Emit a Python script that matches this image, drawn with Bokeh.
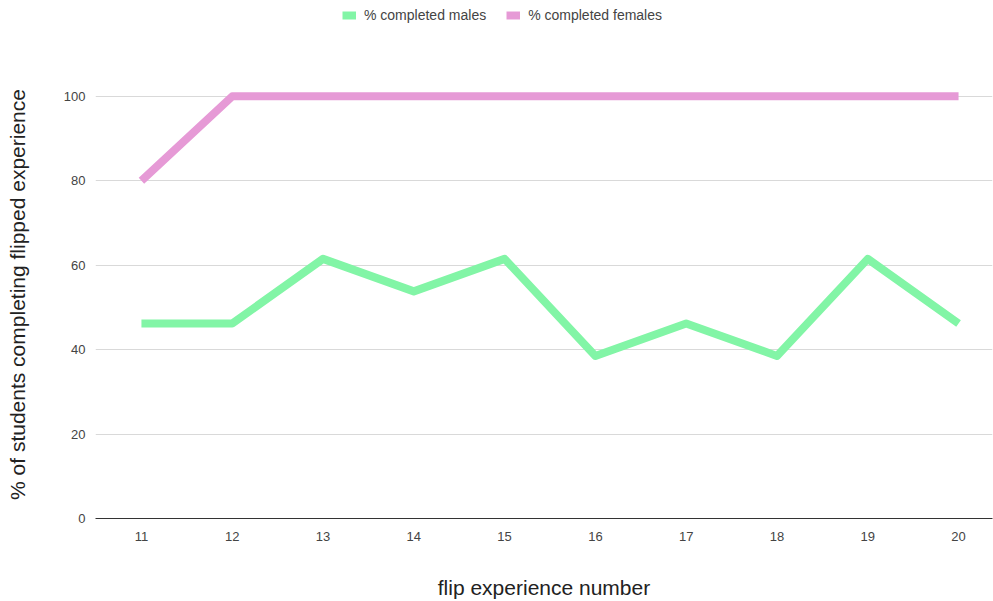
from bokeh.plotting import figure
from bokeh.models import Legend, LegendItem, FixedTicker, Range1d
from bokeh.embed import file_html
from bokeh.resources import INLINE

experience = [11, 12, 13, 14, 15, 16, 17, 18, 19, 20]
males = [46.2, 46.2, 61.5, 53.8, 61.5, 38.5, 46.2, 38.5, 61.5, 46.2]
females = [80, 100, 100, 100, 100, 100, 100, 100, 100, 100]
y_ticks = [0, 20, 40, 60, 80, 100]

FONT = "Liberation Sans"

p = figure(width=993, height=601, output_backend="svg", toolbar_location=None,
           x_range=Range1d(10.494, 20.374), y_range=Range1d(0, 122.7),
           min_border_left=95, min_border_right=1, min_border_bottom=82, min_border_top=0)
p.outline_line_color = None
p.background_fill_color = "white"

r_m = p.line(experience, males, line_color="#82f5a6", line_width=8, line_join="round")
r_f = p.line(experience, females, line_color="#e69ad6", line_width=8, line_join="round")

p.xaxis.ticker = FixedTicker(ticks=experience)
p.yaxis.ticker = FixedTicker(ticks=y_ticks)
p.xgrid.grid_line_color = None
p.ygrid.grid_line_color = "#d9d9d9"
p.ygrid.grid_line_width = 1

p.xaxis.axis_line_color = "#333333"
p.xaxis.axis_line_width = 1
p.xaxis.major_tick_line_color = None
p.xaxis.minor_tick_line_color = None
p.yaxis.axis_line_color = None
p.yaxis.major_tick_line_color = None
p.yaxis.minor_tick_line_color = None

for ax in (p.xaxis, p.yaxis):
    ax.major_label_text_font = FONT
    ax.major_label_text_font_size = "13px"
    ax.major_label_text_color = "#444444"
    ax.axis_label_text_font = FONT
    ax.axis_label_text_font_style = "normal"
    ax.axis_label_text_font_size = "21px"
    ax.axis_label_text_color = "#222222"

p.xaxis.axis_label = "flip experience number"
p.xaxis.major_label_standoff = 7
p.xaxis.axis_label_standoff = 32

# trailing non-breaking spaces shift the centred label down to where the reference has it
p.yaxis.axis_label = "% of students completing flipped experience" + "\u00a0" * 12
p.yaxis.major_label_standoff = 4
p.yaxis.axis_label_standoff = 32

legend = Legend(items=[LegendItem(label="% completed males", renderers=[r_m]),
                       LegendItem(label="% completed females", renderers=[r_f])],
                orientation="horizontal", location=(247, 495),
                label_text_font=FONT, label_text_font_size="14px",
                label_text_color="#444444", glyph_width=14, glyph_height=14,
                spacing=20, border_line_color=None, background_fill_alpha=0,
                padding=4, margin=0, label_standoff=8)
p.add_layout(legend, "center")

open("out.html", "w").write(file_html(p, INLINE))
